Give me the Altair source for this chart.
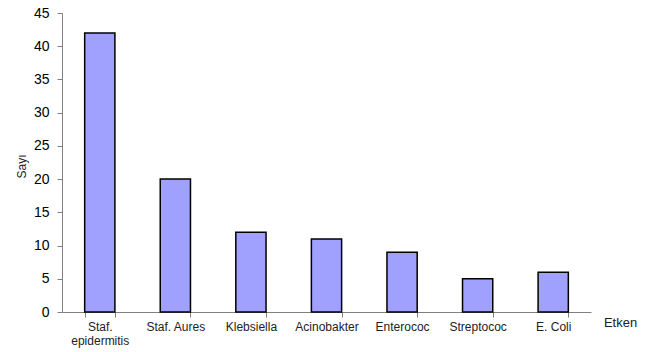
import altair as alt
import pandas as pd

categories = ["Staf.|epidermitis", "Staf. Aures", "Klebsiella", "Acinobakter", "Enterococ", "Streptococ", "E. Coli"]
values = [42, 20, 12, 11, 9, 5, 6]

df = pd.DataFrame({"etken": categories, "sayi": values})

font = "Liberation Sans"

chart = alt.Chart(df).mark_bar(
    color="#A0A0FF", stroke="black", strokeWidth=1.5
).encode(
    x=alt.X("etken:N", sort=categories,
            scale=alt.Scale(paddingInner=0.6, paddingOuter=0.3),
            axis=alt.Axis(title="Etken", labelExpr="split(datum.label, '|')",
                          labelAngle=0, labelFont=font, labelFontSize=12, labelColor="#222222",
                          labelPadding=4, tickBand="extent", tickSize=5,
                          domainColor="#808080", tickColor="#808080",
                          titleFont=font, titleFontSize=13, titleFontWeight="normal", titleColor="#222222",
                          titleX=558, titleY=10, titleAnchor="middle", titleBaseline="middle", titleAlign="center")),
    y=alt.Y("sayi:Q", scale=alt.Scale(domain=[0, 45]),
            axis=alt.Axis(title="Sayı", values=list(range(0, 50, 5)), grid=False,
                          labelFont=font, labelFontSize=14, labelColor="black", labelPadding=8,
                          tickSize=5, domainColor="#808080", tickColor="#808080",
                          titleFont=font, titleFontSize=12, titleFontWeight="normal", titleColor="#222222",
                          titleX=-41, titleY=153, titleAngle=-90, titleBaseline="middle", titleAlign="center")),
).properties(
    width=529, height=299,
    autosize=alt.AutoSizeParams(type="none"),
    padding={"left": 62, "top": 13, "right": 65, "bottom": 40},
).configure_view(stroke=None)

chart.save("out.html", embed_options={"renderer": "svg", "actions": False})
